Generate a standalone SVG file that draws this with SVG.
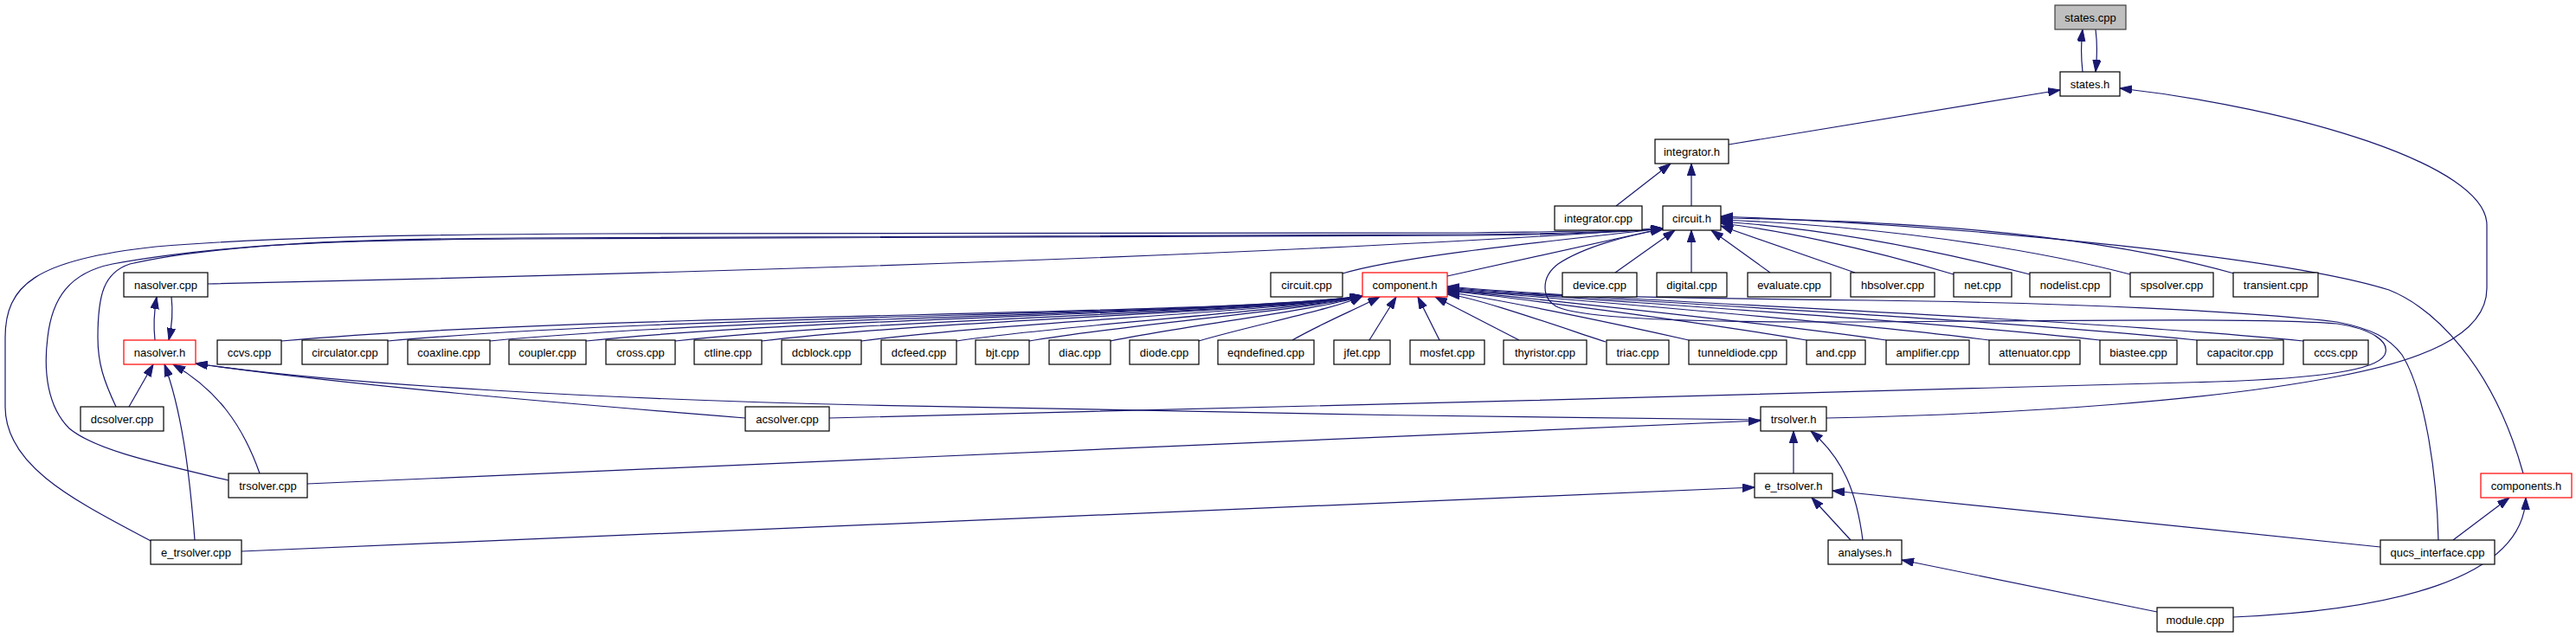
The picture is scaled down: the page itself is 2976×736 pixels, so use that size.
<svg xmlns="http://www.w3.org/2000/svg" width="2976" height="736" viewBox="0 0 2976 736">
<style>
.n rect{fill:#fff;stroke:#000;stroke-width:1.2}
.n.red rect{stroke:#ff0000}
.n.root rect{fill:#bfbfbf;stroke:#404040}
.n text{font-family:"Liberation Sans",Arial,sans-serif;font-size:13px;text-anchor:middle;fill:#000}
#edges path{fill:none;stroke:#191970;stroke-width:1.2;marker-end:url(#arr)}
</style>
<defs>
<marker id="arr" markerUnits="userSpaceOnUse" markerWidth="15" markerHeight="10" refX="14" refY="4.75" orient="auto">
<path d="M0,0 L14,4.75 L0,9.5 z" fill="#191970" stroke="#191970" stroke-width="1"/>
</marker>
</defs>
<rect width="2976" height="736" fill="#fff"/>
<g id="edges">
<path d="M2406,83 C2404,65 2404,50 2406,34"/>
<path d="M2421,34 C2423,50 2423,65 2421,83"/>
<path d="M1997,167 L2380,104"/>
<path d="M2110,483 C2350,478 2560,462 2700,435 C2790,418 2873,390 2873,333 L2873,260 C2873,190 2650,125 2449,102"/>
<path d="M1867,238 L1930,189"/>
<path d="M1954,238 L1954,189"/>
<path d="M240,328 C600,320 1400,300 1921,264"/>
<path d="M174,625 C90,580 6,540 6,470 L6,390 C6,330 40,300 180,285 C300,275 450,271 700,270 L1700,269 C1800,268 1880,266 1921,264"/>
<path d="M264,555 C180,535 110,520 80,495 C55,470 50,430 55,390 C60,345 80,315 130,305 C250,283 400,276 600,275 L1700,271 C1800,270 1880,267 1921,264"/>
<path d="M134,470 C120,440 113,420 113,390 C113,340 120,315 150,305 C250,282 400,277 600,276 L1700,272 C1800,271 1880,268 1921,264"/>
<path d="M1551,316 C1620,295 1800,278 1921,264"/>
<path d="M1672,319 L1921,264"/>
<path d="M1866,315 L1935,266"/>
<path d="M1954,315 L1954,266"/>
<path d="M2045,315 L1977,266"/>
<path d="M2143,315 L1988,261"/>
<path d="M2257,317 C2150,285 2050,265 1988,258"/>
<path d="M2345,317 C2200,280 2080,262 1988,256"/>
<path d="M2461,317 C2300,275 2100,258 1988,254"/>
<path d="M2581,316 C2400,265 2150,254 1988,252"/>
<path d="M2915,547 C2880,420 2810,355 2760,335 C2650,300 2300,262 1988,250"/>
<path d="M958,483 C1300,477 2200,450 2560,441 C2680,437 2745,428 2755,410 C2762,395 2740,380 2700,374 C2600,366 2300,372 2100,372 C1950,372 1830,368 1800,355 C1780,345 1780,320 1800,305 C1830,285 1880,272 1921,265"/>
<path d="M2817,624 C2815,540 2800,450 2775,410 C2760,390 2740,380 2700,372 C2600,360 2400,350 2160,347 C1950,345 1750,340 1672,337"/>
<path d="M179,393 C177,375 178,360 181,343"/>
<path d="M198,343 C200,360 199,375 195,393"/>
<path d="M149,470 L177,421"/>
<path d="M225,624 C220,560 212,480 190,421"/>
<path d="M300,547 C280,490 250,450 200,421"/>
<path d="M861,483 C650,466 400,445 226,420"/>
<path d="M2034,485 C1700,482 1300,475 1000,468 C700,461 400,445 226,420"/>
<path d="M355,559 L2034,486"/>
<path d="M279,637 L2027,563"/>
<path d="M2072,547 L2072,498"/>
<path d="M2152,624 C2145,570 2130,530 2092,498"/>
<path d="M2138,624 L2093,575"/>
<path d="M2750,632 L2117,567"/>
<path d="M2834,624 L2899,575"/>
<path d="M2492,707 L2197,647"/>
<path d="M2580,713 C2760,705 2915,670 2918,575"/>
<path d="M325,394 C700,361 1387,366 1574,342"/>
<path d="M448,394 C786,363 1405,365 1574,342"/>
<path d="M566,394 C868,365 1423,364 1574,342"/>
<path d="M677,394 C946,366 1439,363 1574,342"/>
<path d="M780,394 C1018,368 1455,362 1574,342"/>
<path d="M880,394 C1088,369 1470,361 1574,342"/>
<path d="M995,394 C1169,371 1487,360 1574,342"/>
<path d="M1105,394 C1246,373 1504,359 1574,342"/>
<path d="M1189,394 C1305,374 1516,358 1574,342"/>
<path d="M1283,394 C1370,376 1530,357 1574,342"/>
<path d="M1385,394 C1442,377 1546,356 1574,342"/>
<path d="M1493,393 C1530,372 1565,358 1594,343"/>
<path d="M1582,393 L1613,343"/>
<path d="M1663,393 L1638,343"/>
<path d="M1755,393 L1658,343"/>
<path d="M1855,395 C1800,377 1700,342 1672,340"/>
<path d="M1951,393 C1867,374 1714,342 1672,338"/>
<path d="M2087,393 C1963,372 1734,342 1672,336"/>
<path d="M2179,393 C2027,371 1748,343 1672,335"/>
<path d="M2298,393 C2110,369 1766,343 1672,334"/>
<path d="M2426,393 C2200,368 1785,344 1672,333"/>
<path d="M2538,393 C2278,366 1802,345 1672,332"/>
<path d="M2661,394 C2364,365 1820,346 1672,331"/>
</g>
<g id="states_cpp" class="n root"><rect x="2374" y="6" width="82" height="28"/><text x="2415" y="24.5">states.cpp</text></g>
<g id="states_h" class="n"><rect x="2380" y="83" width="69" height="28"/><text x="2414.5" y="101.5">states.h</text></g>
<g id="integrator_h" class="n"><rect x="1912" y="161" width="85" height="28"/><text x="1954.5" y="179.5">integrator.h</text></g>
<g id="integrator_cpp" class="n"><rect x="1796" y="238" width="101" height="28"/><text x="1846.5" y="256.5">integrator.cpp</text></g>
<g id="circuit_h" class="n"><rect x="1921" y="238" width="67" height="28"/><text x="1954.5" y="256.5">circuit.h</text></g>
<g id="nasolver_cpp" class="n"><rect x="143" y="315" width="97" height="28"/><text x="191.5" y="333.5">nasolver.cpp</text></g>
<g id="circuit_cpp" class="n"><rect x="1468" y="315" width="83" height="28"/><text x="1509.5" y="333.5">circuit.cpp</text></g>
<g id="component_h" class="n red"><rect x="1574" y="315" width="98" height="28"/><text x="1623" y="333.5">component.h</text></g>
<g id="device_cpp" class="n"><rect x="1805" y="315" width="86" height="28"/><text x="1848" y="333.5">device.cpp</text></g>
<g id="digital_cpp" class="n"><rect x="1914" y="315" width="81" height="28"/><text x="1954.5" y="333.5">digital.cpp</text></g>
<g id="evaluate_cpp" class="n"><rect x="2019" y="315" width="96" height="28"/><text x="2067" y="333.5">evaluate.cpp</text></g>
<g id="hbsolver_cpp" class="n"><rect x="2138" y="315" width="97" height="28"/><text x="2186.5" y="333.5">hbsolver.cpp</text></g>
<g id="net_cpp" class="n"><rect x="2257" y="315" width="67" height="28"/><text x="2290.5" y="333.5">net.cpp</text></g>
<g id="nodelist_cpp" class="n"><rect x="2345" y="315" width="93" height="28"/><text x="2391.5" y="333.5">nodelist.cpp</text></g>
<g id="spsolver_cpp" class="n"><rect x="2461" y="315" width="96" height="28"/><text x="2509" y="333.5">spsolver.cpp</text></g>
<g id="transient_cpp" class="n"><rect x="2580" y="315" width="98" height="28"/><text x="2629" y="333.5">transient.cpp</text></g>
<g id="nasolver_h" class="n red"><rect x="143" y="393" width="83" height="28"/><text x="184.5" y="411.5">nasolver.h</text></g>
<g id="ccvs_cpp" class="n"><rect x="251" y="393" width="74" height="28"/><text x="288" y="411.5">ccvs.cpp</text></g>
<g id="circulator_cpp" class="n"><rect x="349" y="393" width="99" height="28"/><text x="398.5" y="411.5">circulator.cpp</text></g>
<g id="coaxline_cpp" class="n"><rect x="471" y="393" width="95" height="28"/><text x="518.5" y="411.5">coaxline.cpp</text></g>
<g id="coupler_cpp" class="n"><rect x="588" y="393" width="89" height="28"/><text x="632.5" y="411.5">coupler.cpp</text></g>
<g id="cross_cpp" class="n"><rect x="700" y="393" width="80" height="28"/><text x="740" y="411.5">cross.cpp</text></g>
<g id="ctline_cpp" class="n"><rect x="802" y="393" width="78" height="28"/><text x="841" y="411.5">ctline.cpp</text></g>
<g id="dcblock_cpp" class="n"><rect x="903" y="393" width="92" height="28"/><text x="949" y="411.5">dcblock.cpp</text></g>
<g id="dcfeed_cpp" class="n"><rect x="1018" y="393" width="87" height="28"/><text x="1061.5" y="411.5">dcfeed.cpp</text></g>
<g id="bjt_cpp" class="n"><rect x="1127" y="393" width="62" height="28"/><text x="1158" y="411.5">bjt.cpp</text></g>
<g id="diac_cpp" class="n"><rect x="1212" y="393" width="71" height="28"/><text x="1247.5" y="411.5">diac.cpp</text></g>
<g id="diode_cpp" class="n"><rect x="1305" y="393" width="80" height="28"/><text x="1345" y="411.5">diode.cpp</text></g>
<g id="eqndefined_cpp" class="n"><rect x="1407" y="393" width="111" height="28"/><text x="1462.5" y="411.5">eqndefined.cpp</text></g>
<g id="jfet_cpp" class="n"><rect x="1541" y="393" width="65" height="28"/><text x="1573.5" y="411.5">jfet.cpp</text></g>
<g id="mosfet_cpp" class="n"><rect x="1629" y="393" width="86" height="28"/><text x="1672" y="411.5">mosfet.cpp</text></g>
<g id="thyristor_cpp" class="n"><rect x="1737" y="393" width="96" height="28"/><text x="1785" y="411.5">thyristor.cpp</text></g>
<g id="triac_cpp" class="n"><rect x="1856" y="393" width="72" height="28"/><text x="1892" y="411.5">triac.cpp</text></g>
<g id="tunneldiode_cpp" class="n"><rect x="1951" y="393" width="113" height="28"/><text x="2007.5" y="411.5">tunneldiode.cpp</text></g>
<g id="and_cpp" class="n"><rect x="2087" y="393" width="68" height="28"/><text x="2121" y="411.5">and.cpp</text></g>
<g id="amplifier_cpp" class="n"><rect x="2179" y="393" width="96" height="28"/><text x="2227" y="411.5">amplifier.cpp</text></g>
<g id="attenuator_cpp" class="n"><rect x="2298" y="393" width="105" height="28"/><text x="2350.5" y="411.5">attenuator.cpp</text></g>
<g id="biastee_cpp" class="n"><rect x="2426" y="393" width="89" height="28"/><text x="2470.5" y="411.5">biastee.cpp</text></g>
<g id="capacitor_cpp" class="n"><rect x="2538" y="393" width="100" height="28"/><text x="2588" y="411.5">capacitor.cpp</text></g>
<g id="cccs_cpp" class="n"><rect x="2661" y="393" width="75" height="28"/><text x="2698.5" y="411.5">cccs.cpp</text></g>
<g id="dcsolver_cpp" class="n"><rect x="93" y="470" width="96" height="28"/><text x="141" y="488.5">dcsolver.cpp</text></g>
<g id="acsolver_cpp" class="n"><rect x="861" y="470" width="97" height="28"/><text x="909.5" y="488.5">acsolver.cpp</text></g>
<g id="trsolver_h" class="n"><rect x="2034" y="470" width="76" height="28"/><text x="2072" y="488.5">trsolver.h</text></g>
<g id="trsolver_cpp" class="n"><rect x="264" y="547" width="91" height="28"/><text x="309.5" y="565.5">trsolver.cpp</text></g>
<g id="e_trsolver_h" class="n"><rect x="2027" y="547" width="90" height="28"/><text x="2072" y="565.5">e_trsolver.h</text></g>
<g id="components_h" class="n red"><rect x="2866" y="547" width="105" height="28"/><text x="2918.5" y="565.5">components.h</text></g>
<g id="e_trsolver_cpp" class="n"><rect x="174" y="624" width="105" height="28"/><text x="226.5" y="642.5">e_trsolver.cpp</text></g>
<g id="analyses_h" class="n"><rect x="2112" y="624" width="85" height="28"/><text x="2154.5" y="642.5">analyses.h</text></g>
<g id="qucs_interface_cpp" class="n"><rect x="2750" y="624" width="132" height="28"/><text x="2816" y="642.5">qucs_interface.cpp</text></g>
<g id="module_cpp" class="n"><rect x="2492" y="702" width="88" height="28"/><text x="2536" y="720.5">module.cpp</text></g>
</svg>
